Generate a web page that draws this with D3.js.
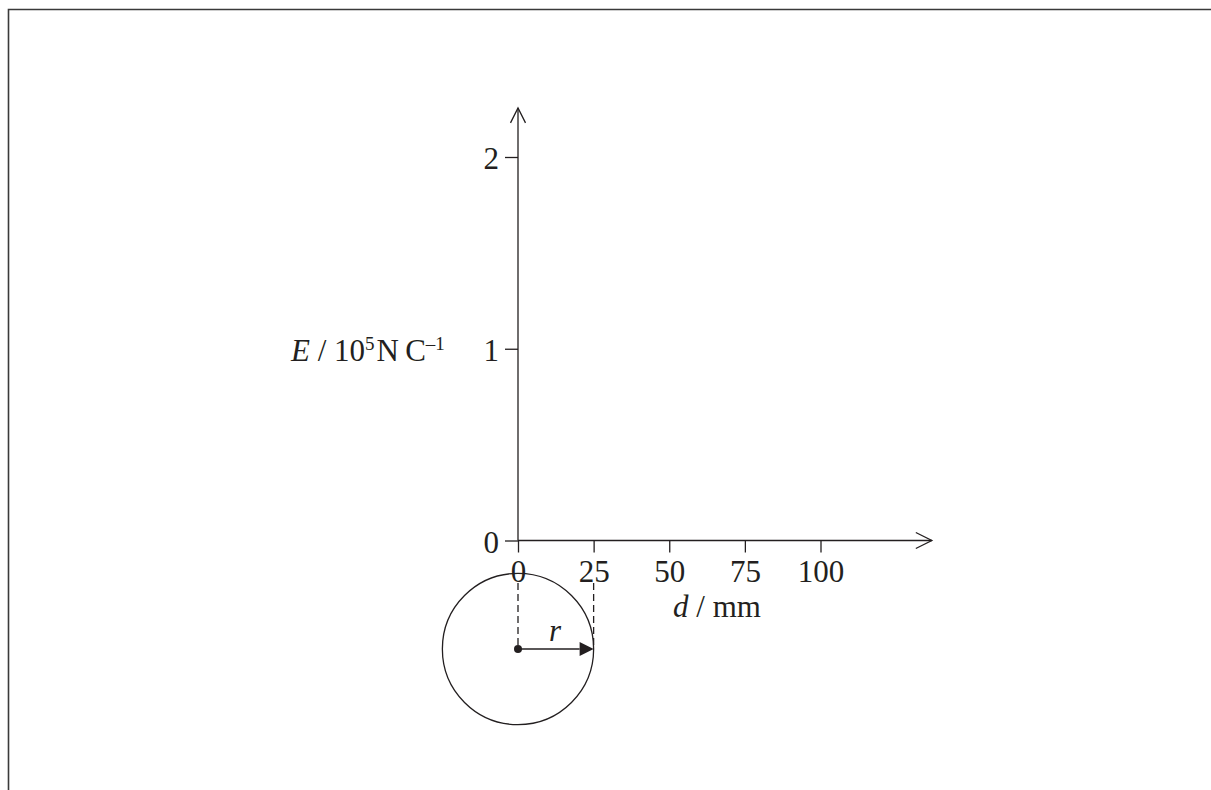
<!DOCTYPE html>
<html>
<head>
<meta charset="utf-8" />
<title>E against d</title>
<style>
  body { margin: 0; background: #fff; }
  svg text { font-family: "Liberation Serif", "Times New Roman", serif; fill: #231f20; }
</style>
</head>
<body>
<svg width="1211" height="790"></svg>
<script src="https://cdn.jsdelivr.net/npm/d3@7/dist/d3.min.js"></script>
<script>
// data
var xTicks = [0, 25, 50, 75, 100];     // d / mm
var yTicks = [0, 1, 2];                // E / 10^5 N C^-1
var xMax = 136.8;                      // where the d arrow ends
var yMax = 2.256;                      // where the E arrow ends
var radius = 25;                       // r of the sphere, mm

var ink = '#231f20';
var fontSize = 31;
var svg = d3.select('svg');

// frame (top and left edges only are on the page)
svg.append('path')
    .attr('d', 'M8.5,790 V9.5 H1211')
    .attr('fill', 'none')
    .attr('stroke', '#3a3a3a')
    .attr('stroke-width', 1.6);

var x = d3.scaleLinear().domain([0, 100]).range([518, 820.5]);
var y = d3.scaleLinear().domain([0, 2]).range([540.5, 157]);

// axes, ticks and labels
var xAxis = svg.append('g')
    .attr('transform', 'translate(0,' + y(0) + ')')
    .call(d3.axisBottom(x).tickValues(xTicks).tickFormat(d3.format('d'))
        .tickSize(12).tickSizeOuter(0).tickPadding(7));
var yAxis = svg.append('g')
    .attr('transform', 'translate(' + x(0) + ',0)')
    .call(d3.axisLeft(y).tickValues(yTicks).tickFormat(d3.format('d'))
        .tickSize(13).tickSizeOuter(0).tickPadding(6));

[xAxis, yAxis].forEach(function (g) {
    g.select('.domain').remove();
    g.selectAll('line').attr('stroke', ink).attr('stroke-width', 1.3);
    g.selectAll('text').attr('font-size', fontSize).attr('fill', ink)
        .style('font-family', '"Liberation Serif", "Times New Roman", serif');
});
yAxis.selectAll('text').attr('dy', '0.38em');

// axis lines with open arrowheads
svg.append('line')
    .attr('x1', x(0)).attr('y1', y(0))
    .attr('x2', x(xMax)).attr('y2', y(0))
    .attr('stroke', ink).attr('stroke-width', 1.3);
svg.append('line')
    .attr('x1', x(0)).attr('y1', y(0))
    .attr('x2', x(0)).attr('y2', y(yMax))
    .attr('stroke', ink).attr('stroke-width', 1.3);

svg.append('path')
    .attr('d', 'M' + (x(xMax) - 16) + ',' + (y(0) - 8) + ' L' + x(xMax) + ',' + y(0) +
        ' L' + (x(xMax) - 16) + ',' + (y(0) + 8))
    .attr('fill', 'none').attr('stroke', ink).attr('stroke-width', 1.3);
svg.append('path')
    .attr('d', 'M' + (x(0) - 7.5) + ',' + (y(yMax) + 15) + ' L' + x(0) + ',' + y(yMax) +
        ' L' + (x(0) + 7.5) + ',' + (y(yMax) + 15))
    .attr('fill', 'none').attr('stroke', ink).attr('stroke-width', 1.3);

// axis titles
var xTitle = svg.append('text')
    .attr('x', 717).attr('y', 617)
    .attr('text-anchor', 'middle')
    .attr('font-size', fontSize);
xTitle.append('tspan').attr('font-style', 'italic').text('d');
xTitle.append('tspan').text(' / mm');

var yTitle = svg.append('text')
    .attr('x', 291).attr('y', 361)
    .attr('font-size', fontSize);
yTitle.append('tspan').attr('font-style', 'italic').text('E');
yTitle.append('tspan').text(' / 10');
yTitle.append('tspan').attr('font-size', 19).attr('dy', -11).text('5');
yTitle.append('tspan').attr('dy', 11).attr('dx', 2).text('N\u2009C');
yTitle.append('tspan').attr('font-size', 19).attr('dy', -11).text('\u20131');

// the charged sphere under the axis
var cy = 649;
var r = x(radius) - x(0);

svg.append('circle')
    .attr('cx', x(0)).attr('cy', cy).attr('r', r)
    .attr('fill', 'none').attr('stroke', ink).attr('stroke-width', 1.3);

svg.selectAll('line.guide')
    .data([0, radius])
    .enter()
    .append('line')
    .attr('class', 'guide')
    .attr('x1', function (d) { return x(d); })
    .attr('x2', function (d) { return x(d); })
    .attr('y1', 583)
    .attr('y2', cy)
    .attr('stroke', ink)
    .attr('stroke-width', 1.3)
    .attr('stroke-dasharray', '7,4');

svg.append('line')
    .attr('x1', x(0)).attr('y1', cy)
    .attr('x2', x(radius) - 14).attr('y2', cy)
    .attr('stroke', ink).attr('stroke-width', 1.6);
svg.append('path')
    .attr('d', 'M' + x(radius) + ',' + cy + ' L' + (x(radius) - 14) + ',' + (cy - 7) +
        ' L' + (x(radius) - 14) + ',' + (cy + 7) + ' Z')
    .attr('fill', ink);
svg.append('circle')
    .attr('cx', x(0)).attr('cy', cy).attr('r', 4)
    .attr('fill', ink);

svg.append('text')
    .attr('x', 555).attr('y', 641)
    .attr('text-anchor', 'middle')
    .attr('font-size', fontSize)
    .attr('font-style', 'italic')
    .text('r');
</script>
</body>
</html>
